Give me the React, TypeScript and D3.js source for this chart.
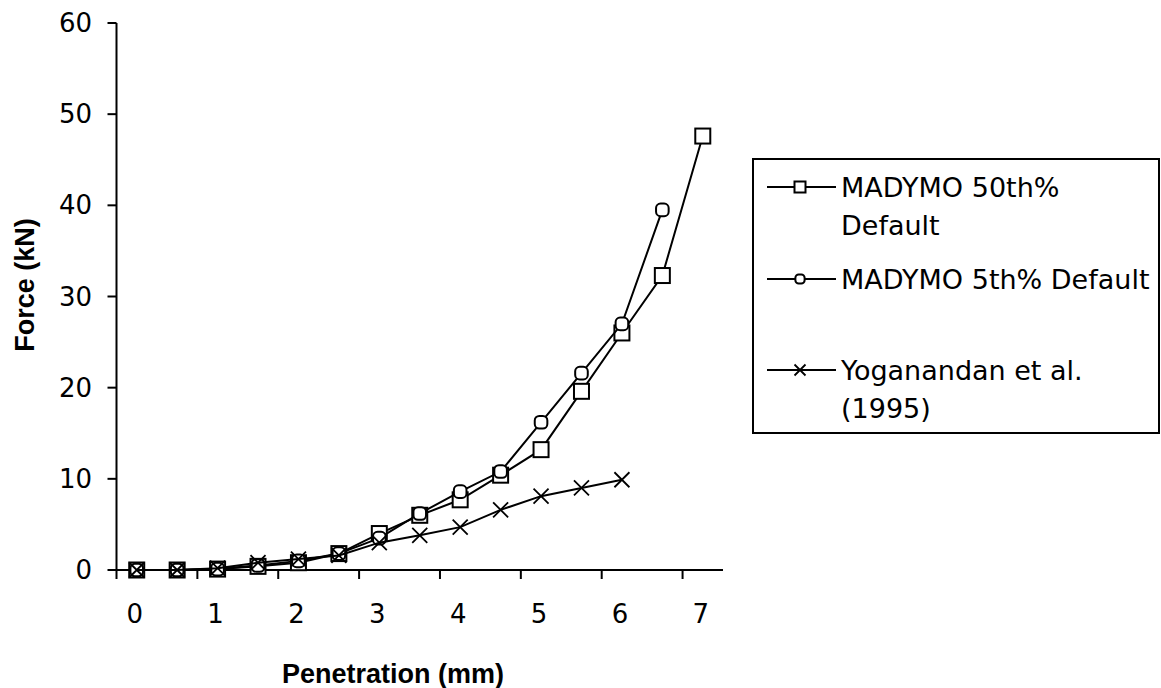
import * as d3 from 'd3'
import { useEffect, useRef } from 'react'

// penetration values (mm), one per category on the axis
const penetration = [0, 0.5, 1, 1.5, 2, 2.5, 3, 3.5, 4, 4.5, 5, 5.5, 6, 6.5, 7]
const xTickLabels = ['0', '1', '2', '3', '4', '5', '6', '7']
const yTicks = [0, 10, 20, 30, 40, 50, 60]

// force (kN)
const madymo50 = [0, 0, 0.1, 0.4, 0.8, 1.8, 4.0, 6.0, 7.7, 10.4, 13.2, 19.6, 26.0, 32.3, 47.6]
const madymo5 = [0, 0, 0.1, 0.5, 1.0, 1.8, 3.5, 6.2, 8.6, 10.8, 16.2, 21.6, 27.0, 39.5]
const yoganandan = [0, 0, 0.2, 0.8, 1.2, 1.6, 3.0, 3.8, 4.7, 6.6, 8.1, 9.0, 9.9]

const seriesNames = [['MADYMO 50th%', 'Default'], ['MADYMO 5th% Default'], ['Yoganandan et al.', '(1995)']]
const markers = ['square', 'circle', 'cross']

export default function App() {
  const svgRef = useRef<SVGSVGElement>(null)

  useEffect(() => {
    const svg = d3.select(svgRef.current)
    svg.selectAll('*').remove()

    const x = d3.scaleLinear().domain([-0.25, 7.25]).range([116.5, 723])
    const y = d3.scaleLinear().domain([0, 60]).range([570, 23])
    const font = "'DejaVu Sans', sans-serif"

    const drawMarker = (g: any, kind: string, cx: number, cy: number, s: number) => {
      if (kind === 'square') {
        g.append('rect')
          .attr('x', cx - s / 2).attr('y', cy - s / 2)
          .attr('width', s).attr('height', s)
          .attr('fill', 'white').attr('stroke', 'black').attr('stroke-width', 2)
      } else if (kind === 'circle') {
        g.append('rect')
          .attr('x', cx - s * 0.42).attr('y', cy - s * 0.42)
          .attr('width', s * 0.84).attr('height', s * 0.84)
          .attr('rx', s * 0.3)
          .attr('fill', 'white').attr('stroke', 'black').attr('stroke-width', 2)
      } else {
        const h = s / 2
        g.append('path')
          .attr('d', `M${cx - h},${cy - h}L${cx + h},${cy + h}M${cx - h},${cy + h}L${cx + h},${cy - h}`)
          .attr('stroke', 'black').attr('stroke-width', 1.8)
      }
    }

    // axes
    svg.append('line')
      .attr('x1', x(-0.25)).attr('x2', x(-0.25)).attr('y1', y(60)).attr('y2', y(0))
      .attr('stroke', 'black').attr('stroke-width', 2)
    svg.append('line')
      .attr('x1', x(-0.25)).attr('x2', x(7.25)).attr('y1', y(0)).attr('y2', y(0))
      .attr('stroke', 'black').attr('stroke-width', 2)

    yTicks.forEach((t) => {
      svg.append('line')
        .attr('x1', x(-0.25) - 9).attr('x2', x(-0.25)).attr('y1', y(t)).attr('y2', y(t))
        .attr('stroke', 'black').attr('stroke-width', 2)
      svg.append('text')
        .attr('x', 92).attr('y', y(t))
        .attr('text-anchor', 'end').attr('dominant-baseline', 'central')
        .style('font-family', font).style('font-size', '26px')
        .text(t)
    })

    xTickLabels.forEach((lab, i) => {
      svg.append('line')
        .attr('x1', x(i - 0.25)).attr('x2', x(i - 0.25)).attr('y1', y(0)).attr('y2', y(0) + 9)
        .attr('stroke', 'black').attr('stroke-width', 2)
      svg.append('text')
        .attr('x', x(i) - 2).attr('y', 614)
        .attr('text-anchor', 'middle').attr('dominant-baseline', 'central')
        .style('font-family', font).style('font-size', '26px')
        .text(lab)
    })

    // axis titles
    svg.append('text')
      .attr('x', 393).attr('y', 683)
      .attr('text-anchor', 'middle')
      .style('font-family', "'Liberation Sans', Arial, sans-serif").style('font-weight', 'bold').style('font-size', '27px')
      .text('Penetration (mm)')
    svg.append('text')
      .attr('transform', 'translate(34,285) rotate(-90)')
      .attr('text-anchor', 'middle')
      .style('font-family', "'Liberation Sans', Arial, sans-serif").style('font-weight', 'bold').style('font-size', '27px')
      .text('Force (kN)')

    // series
    const allSeries = [madymo50, madymo5, yoganandan]
    const line = d3.line<number>().x((_, i) => x(penetration[i])).y((d) => y(d))
    allSeries.forEach((vals, si) => {
      const g = svg.append('g')
      g.append('path').datum(vals)
        .attr('fill', 'none').attr('stroke', 'black').attr('stroke-width', 2)
        .attr('d', line)
      vals.forEach((v, i) => drawMarker(g, markers[si], x(penetration[i]), y(v), 15))
    })

    // legend
    const lg = svg.append('g')
    lg.append('rect')
      .attr('x', 753).attr('y', 159).attr('width', 406).attr('height', 274)
      .attr('fill', 'white').attr('stroke', 'black').attr('stroke-width', 2)
    const rowY = [187, 279, 370]
    seriesNames.forEach((lines, si) => {
      lg.append('line')
        .attr('x1', 767).attr('x2', 836).attr('y1', rowY[si]).attr('y2', rowY[si])
        .attr('stroke', 'black').attr('stroke-width', 2)
      drawMarker(lg, markers[si], 800, rowY[si], 11)
      lines.forEach((txt, li) => {
        lg.append('text')
          .attr('x', 841).attr('y', rowY[si] + li * 38)
          .attr('dominant-baseline', 'central')
          .style('font-family', font).style('font-size', '27px')
          .text(txt)
      })
    })
  }, [])

  return (
    <svg
      ref={svgRef}
      width={1161}
      height={688}
      style={{ position: 'absolute', left: 0, top: 0, background: 'white' }}
    />
  )
}
